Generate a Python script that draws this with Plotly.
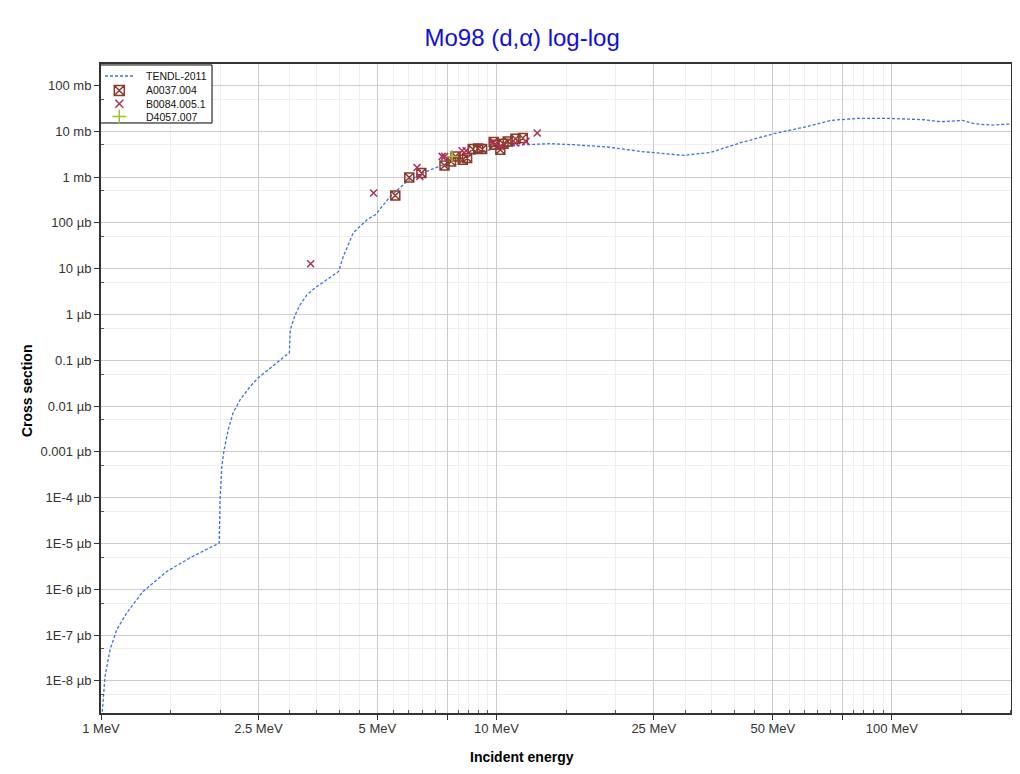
import plotly.graph_objects as go

# TENDL-2011 evaluation (energy in MeV, cross section in mb)
tendl_e = [1.001, 1.0076, 1.0235, 1.054, 1.096, 1.162, 1.277, 1.467, 1.68, 1.99,
           2.0, 2.021, 2.048, 2.097, 2.159, 2.248, 2.384, 2.498, 2.705, 2.995,
           3.01, 3.098, 3.19, 3.317, 3.482, 3.728, 3.99, 4.10, 4.345, 4.707,
           4.94, 5.39, 5.94, 6.53, 7.34, 8.25, 9.27, 10.42, 11.71, 13.7,
           15.66, 19.07, 23.15, 29.74, 34.83, 41.48, 50.27, 61.18, 70.08, 81.88,
           99.4, 120.5, 133.1, 151.0, 161.3, 178.1, 200.1]
tendl_xs = [1e-12, 2.15e-12, 1.25e-11, 4.77e-11, 1.31e-10, 3.07e-10, 8.95e-10, 2.45e-9, 4.88e-9, 1.02e-8,
            9.0e-8, 4.8e-7, 1.11e-6, 3.04e-6, 7.15e-6, 1.37e-5, 2.68e-5, 4.15e-5, 7.33e-5, 1.46e-4,
            4.64e-4, 9.85e-4, 1.63e-3, 2.69e-3, 3.83e-3, 5.73e-3, 8.69e-3, 0.01846, 0.0608, 0.117,
            0.150, 0.377, 0.802, 1.24, 1.86, 2.64, 3.62, 4.59, 5.07, 5.34,
            5.07, 4.52, 3.62, 2.97, 3.44, 5.61, 8.82, 12.7, 17.2, 19.0,
            19.0, 17.8, 16.1, 17.2, 14.6, 13.6, 14.4]

# EXFOR A0037.004
a_e = [5.55, 6.02, 6.46, 7.39, 7.68, 7.88, 8.22, 8.43, 8.71, 8.99, 9.20,
       9.84, 9.88, 10.23, 10.42, 10.68, 11.17, 11.66]
a_xs = [0.396, 0.98, 1.22, 1.79, 2.19, 2.82, 2.39, 2.60, 4.09, 4.21, 4.09,
        5.81, 5.07, 3.95, 5.33, 5.99, 6.86, 7.11]

# EXFOR B0084.005.1
b_e = [3.39, 4.89, 6.30, 6.40, 7.29, 7.40, 8.19, 8.38, 9.84, 10.23, 11.17, 11.87, 12.68]
b_xs = [0.0128, 0.448, 1.62, 1.03, 2.82, 2.82, 3.75, 3.75, 5.69, 4.66, 5.52, 5.99, 9.14]

# EXFOR D4057.007
d_e = [7.72]
d_xs = [2.82]

x_major = [1, 2.5, 5, 7.5, 10, 25, 50, 75, 100]
x_major_text = ['1 MeV', '2.5 MeV', '5 MeV', '', '10 MeV', '25 MeV', '50 MeV', '', '100 MeV']
x_minor = ([1.5, 2, 3, 3.5, 4, 4.5, 5.5, 6, 6.5, 7, 8, 8.5, 9, 9.5]
           + [15, 20, 30, 35, 40, 45, 55, 60, 65, 70, 80, 85, 90, 95, 150, 200])

y_major = [1e2, 1e1, 1e0, 1e-1, 1e-2, 1e-3, 1e-4, 1e-5, 1e-6, 1e-7, 1e-8, 1e-9, 1e-10, 1e-11]
y_major_text = ['100 mb', '10 mb', '1 mb', '100 µb', '10 µb', '1 µb', '0.1 µb', '0.01 µb',
                '0.001 µb', '1E-4 µb', '1E-5 µb', '1E-6 µb', '1E-7 µb', '1E-8 µb']
y_minor = [5 * v for v in y_major] + [5e-12]

leg_names = ['TENDL-2011', 'A0037.004', 'B0084.005.1', 'D4057.007']
leg_colors = ['#3f6ee8', '#8b3a2a', '#a8305e', '#a0c030']
leg_symbols = [None, 'square-x-open', 'x-thin-open', 'cross-thin-open']
leg_sizes = [None, 9, 7, 9]

font = 'Liberation Sans, Arial, sans-serif'

fig = go.Figure()
fig.add_trace(go.Scatter(x=tendl_e, y=tendl_xs, mode='lines', name=leg_names[0],
                         line=dict(color=leg_colors[0], width=1.3, dash='3px,2px')))
for e, xs, i in [(a_e, a_xs, 1), (b_e, b_xs, 2), (d_e, d_xs, 3)]:
    fig.add_trace(go.Scatter(x=e, y=xs, mode='markers', name=leg_names[i],
                             marker=dict(symbol=leg_symbols[i], size=leg_sizes[i], color=leg_colors[i],
                                         line=dict(width=1.5, color=leg_colors[i]))))

# hand-made legend on an invisible overlay subplot (0..1 spans the plot area),
# so the rows can be as tight as in the original
bx0, bx1, by0, by1 = -0.0011, 0.122, 0.9091, 0.9985
row_y = [0.9815, 0.9592, 0.9387, 0.9191]
sym_x = 0.0201
fig.add_trace(go.Scatter(x=[bx0, bx1, bx1, bx0, bx0], y=[by0, by0, by1, by1, by0],
                         xaxis='x2', yaxis='y2', mode='lines', fill='toself', fillcolor='white',
                         line=dict(color='black', width=1), hoverinfo='skip'))
fig.add_trace(go.Scatter(x=[0.0044, 0.0352], y=[row_y[0], row_y[0]], xaxis='x2', yaxis='y2',
                         mode='lines', line=dict(color=leg_colors[0], width=1.3, dash='3px,2px'),
                         hoverinfo='skip'))
for i in range(1, 4):
    fig.add_trace(go.Scatter(x=[sym_x], y=[row_y[i]], xaxis='x2', yaxis='y2', mode='markers',
                             marker=dict(symbol=leg_symbols[i], size=leg_sizes[i] + 1, color=leg_colors[i],
                                         line=dict(width=1.5, color=leg_colors[i])),
                             hoverinfo='skip'))
for i, name in enumerate(leg_names):
    fig.add_annotation(x=0.0484, y=row_y[i], xref='paper', yref='paper', text=name, showarrow=False,
                       xanchor='left', yanchor='middle', borderpad=0,
                       font=dict(size=10.5, color='#111111', family=font))

# axis titles
fig.add_annotation(x=0.4626, y=-0.0678, xref='paper', yref='paper', text='<b>Incident energy</b>',
                   showarrow=False, xanchor='center', yanchor='middle',
                   font=dict(size=14, color='black', family=font))
fig.add_annotation(x=-0.0813, y=0.496, xref='paper', yref='paper', text='<b>Cross section</b>',
                   showarrow=False, xanchor='center', yanchor='middle', textangle=-90,
                   font=dict(size=14, color='black', family=font))

# the page body adds an 8px offset, so the figure is 8px smaller than the window
fig.update_layout(
    width=1012, height=766,
    margin=dict(l=93, r=9, t=56, b=61),
    paper_bgcolor='white', plot_bgcolor='white',
    font=dict(family=font, size=13, color='#333333'),
    title=dict(text='Mo98 (d,α) log-log', x=0.508, xanchor='center', y=0.962, yanchor='middle',
               font=dict(size=24, color='#1010d8', family=font)),
    showlegend=False,
    xaxis2=dict(overlaying='x', range=[0, 1], visible=False, anchor='y2'),
    yaxis2=dict(overlaying='y', range=[0, 1], visible=False, anchor='x2'),
)

fig.layout.xaxis.update(
    type='log', range=[0, 2.3013], automargin=False,
    tickmode='array', tickvals=x_major, ticktext=x_major_text,
    showgrid=True, gridcolor='#cccccc', gridwidth=1,
    showline=True, linecolor='#333333', linewidth=2, mirror=True,
    ticks='outside', ticklen=5, tickcolor='#333333', ticklabelstandoff=-3,
    minor=dict(tickmode='array', tickvals=x_minor, showgrid=True, gridcolor='#efefef',
               ticks='inside', ticklen=3, tickcolor='#555555'),
    zeroline=False,
)
fig.layout.yaxis.update(
    type='log', range=[-11.70, 2.467], automargin=False,
    tickmode='array', tickvals=y_major, ticktext=y_major_text,
    showgrid=True, gridcolor='#cccccc', gridwidth=1,
    showline=True, linecolor='#333333', linewidth=2, mirror=True,
    ticks='outside', ticklen=5, tickcolor='#333333',
    minor=dict(tickmode='array', tickvals=y_minor, showgrid=True, gridcolor='#efefef',
               ticks='inside', ticklen=3, tickcolor='#555555'),
    zeroline=False,
)

fig.write_html('out.html')
